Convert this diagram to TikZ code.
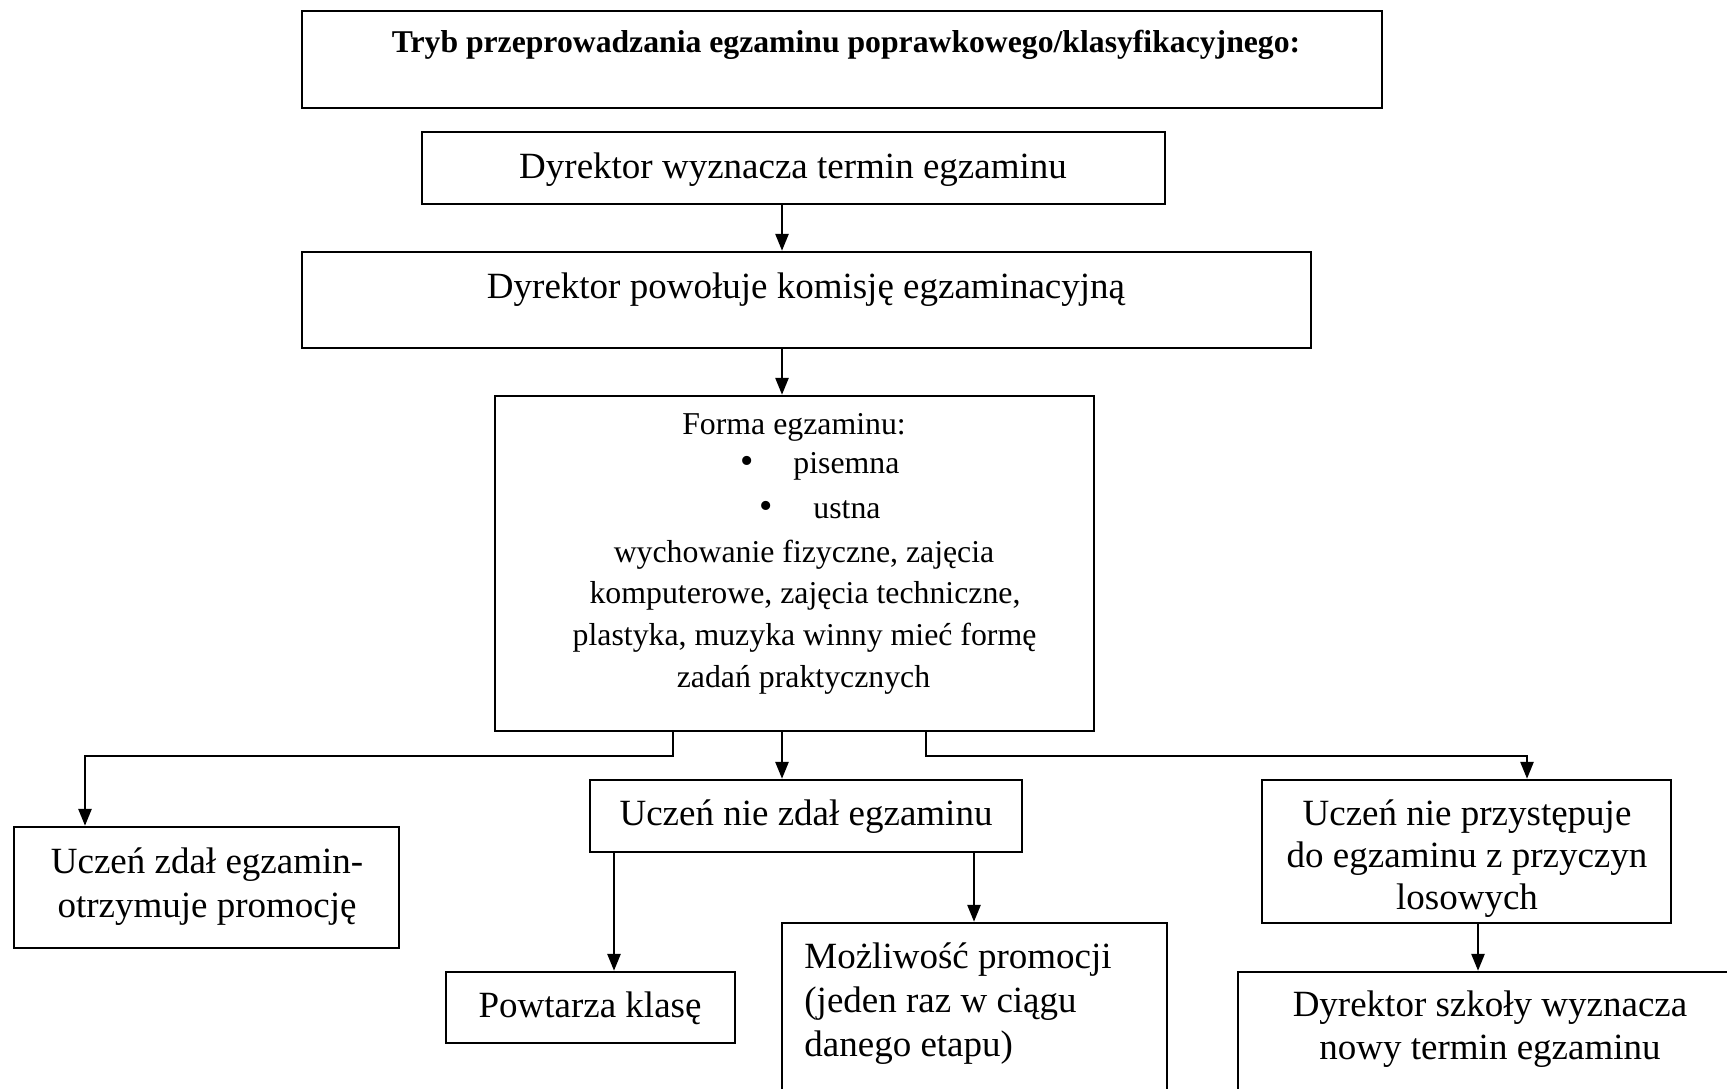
\documentclass[tikz,border=0pt]{standalone}
\usepackage{fontspec}
\setmainfont{Liberation Serif}
\usetikzlibrary{arrows.meta}
\tikzset{
  bx/.style 2 args={draw, line width=1.2pt, minimum width=#1, minimum height=#2, inner sep=0pt},
  conn/.style={line width=1.35pt, -{Triangle[width=6.5pt,length=8.5pt]}},
  big/.style={font=\fontsize{18.5}{21.5}\selectfont, inner sep=0pt, anchor=base},
  mid/.style={font=\fontsize{15.9}{19}\selectfont, inner sep=0pt, anchor=base},
  bul/.style={font=\fontsize{19}{19}\selectfont, inner sep=0pt, anchor=base},
  ttl/.style={font=\fontsize{15.85}{19}\selectfont\bfseries, inner sep=0pt, anchor=base}
}
\begin{document}
\begin{tikzpicture}[x=0.5pt, y=-0.5pt]
\clip (0,0) rectangle (1727,1088);
\fill[white] (0,0) rectangle (1727,1088);

% boxes
\node[bx={540pt}{48.5pt}] (title) at (842,59.5) {};
\node[bx={371.5pt}{36pt}] (b2) at (793.5,168) {};
\node[bx={504.5pt}{48pt}] (b3) at (806.5,300) {};
\node[bx={299.5pt}{167.5pt}] (forma) at (794.5,563.5) {};
\node[bx={192.5pt}{60.5pt}] (zdal) at (206.5,887.5) {};
\node[bx={216pt}{36pt}] (niezdal) at (806,816) {};
\node[bx={204.5pt}{71.5pt}] (przyst) at (1466.5,851.5) {};
\node[bx={144.5pt}{35.5pt}] (powt) at (590.5,1007.5) {};
\node[bx={192.5pt}{93.5pt}] (mozl) at (974.5,1016.5) {};
\node[bx={252pt}{69pt}] (dyrsz) at (1490,1041) {};

% texts
\node[ttl] (ttitle) at (846,52) {Tryb przeprowadzania egzaminu poprawkowego/klasyfikacyjnego:};
\node[big] (tb2) at (793,178) {Dyrektor wyznacza termin egzaminu};
\node[big] (tb3) at (806,298) {Dyrektor powołuje komisję egzaminacyjną};

\node[mid] (tf1) at (794,434) {Forma egzaminu:};
\node[bul] (bul1) at (747,473) {•};
\node[mid, anchor=base west] (tf2) at (793,473) {pisemna};
\node[bul] (bul2) at (766,518) {•};
\node[mid, anchor=base west] (tf3) at (813,518) {ustna};
\node[mid] (tf4) at (804,562) {wychowanie fizyczne, zajęcia};
\node[mid] (tf5) at (805,603) {komputerowe, zajęcia techniczne,};
\node[mid] (tf6) at (804.5,645) {plastyka, muzyka winny mieć formę};
\node[mid] (tf7) at (803.5,687) {zadań praktycznych};

\node[big] (tz1) at (207,873) {Uczeń zdał egzamin-};
\node[big] (tz2) at (207,917) {otrzymuje promocję};
\node[big] (tn1) at (806,825) {Uczeń nie zdał egzaminu};
\node[big] (tp1) at (1467,825) {Uczeń nie przystępuje};
\node[big] (tp2) at (1467,867) {do egzaminu z przyczyn};
\node[big] (tp3) at (1467,909) {losowych};
\node[big] (tw1) at (590,1017) {Powtarza klasę};
\node[big, anchor=base west] (tm1) at (804,968) {Możliwość promocji};
\node[big, anchor=base west] (tm2) at (804,1012) {(jeden raz w ciągu};
\node[big, anchor=base west] (tm3) at (804,1056) {danego etapu)};
\node[big] (td1) at (1490,1016) {Dyrektor szkoły wyznacza};
\node[big] (td2) at (1490,1059) {nowy termin egzaminu};

% coordinates for connector axes
\coordinate (ax) at (782,0);
\coordinate (lx) at (673,0);
\coordinate (rx) at (926,0);
\coordinate (zx) at (85,0);
\coordinate (px) at (1527,0);
\coordinate (hy) at (0,756);
\coordinate (wx) at (614,0);
\coordinate (mx) at (974,0);
\coordinate (dx) at (1478,0);

% connectors
\draw[conn] (b2.south -| ax) -- (b3.north -| ax);
\draw[conn] (b3.south -| ax) -- (forma.north -| ax);
\draw[conn] (forma.south -| lx) |- (hy -| zx) -- (zdal.north -| zx);
\draw[conn] (forma.south -| ax) -- (niezdal.north -| ax);
\draw[conn] (forma.south -| rx) |- (hy -| px) -- (przyst.north -| px);
\draw[conn] (niezdal.south -| wx) -- (powt.north -| wx);
\draw[conn] (niezdal.south -| mx) -- (mozl.north -| mx);
\draw[conn] (przyst.south -| dx) -- (dyrsz.north -| dx);
\end{tikzpicture}
\end{document}
